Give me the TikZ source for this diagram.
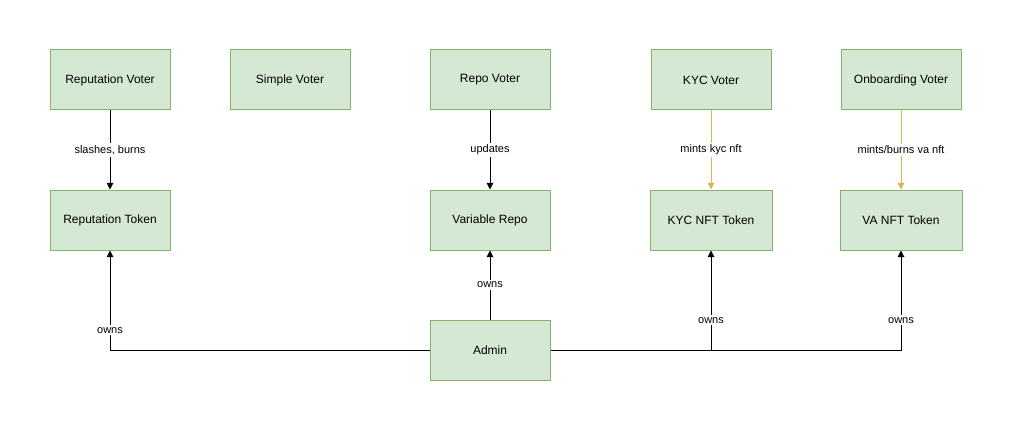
\documentclass[tikz,border=0pt]{standalone}
\usepackage{fontspec}
\setmainfont{Liberation Sans}
\usetikzlibrary{arrows.meta}
\definecolor{boxfill}{HTML}{D5E8D4}
\definecolor{boxline}{HTML}{82B366}
\definecolor{goldline}{HTML}{D6B656}
\begin{document}
\begin{tikzpicture}[x=0.75pt,y=-0.75pt,
  box/.style={draw=boxline,fill=boxfill,line width=0.75pt,minimum width=90pt,minimum height=45pt,inner sep=0pt,font=\fontsize{9}{11}\selectfont},
  conn/.style={draw=black,line width=0.75pt,-{Triangle[width=5pt,length=5pt]}},
  gconn/.style={draw=goldline,line width=0.75pt,-{Triangle[width=5pt,length=5pt]}},
  lbl/.style={fill=white,inner sep=1.5pt,font=\fontsize{8.25}{10}\selectfont}]
\useasboundingbox (0,0) rectangle (1013,431);
\node[box] (rv) at (110,80) {Reputation Voter};
\node[box] (sv) at (290,80) {Simple Voter};
\node[box] (repv) at (490,80) {Repo Voter};
\node[box] (kv) at (711,80) {KYC Voter};
\node[box] (ov) at (901,80) {Onboarding Voter};
\node[box] (rt) at (110,220) {Reputation Token};
\node[box] (vr) at (490,220) {Variable Repo};
\node[box,minimum width=91.5pt] (kt) at (711,220) {KYC NFT Token};
\node[box,minimum width=91.5pt] (vt) at (901,220) {VA NFT Token};
\node[box] (ad) at (490,350) {Admin};

\draw[conn] (rv) -- node[lbl,pos=0.5] {slashes, burns} (rt);
\draw[conn] (repv) -- node[lbl,pos=0.5] {updates} (vr);
\draw[gconn] (kv) -- node[lbl,pos=0.5] {mints kyc nft} (kt);
\draw[gconn] (ov) -- node[lbl,pos=0.5] {mints/burns va nft} (vt);

\coordinate (c1) at (110,350);
\coordinate (c2) at (711,350);
\coordinate (c3) at (901,350);
\draw[conn] (ad.west) -- (c1) -- node[lbl,pos=0.2] {owns} (rt.south);
\draw[conn] (ad.north) -- node[lbl,pos=0.5] {owns} (vr.south);
\draw[conn] (ad.east) -- (c2) -- node[lbl,pos=0.3] {owns} (kt.south);
\draw[conn] (c2) -- (c3) -- node[lbl,pos=0.3] {owns} (vt.south);
\end{tikzpicture}
\end{document}
